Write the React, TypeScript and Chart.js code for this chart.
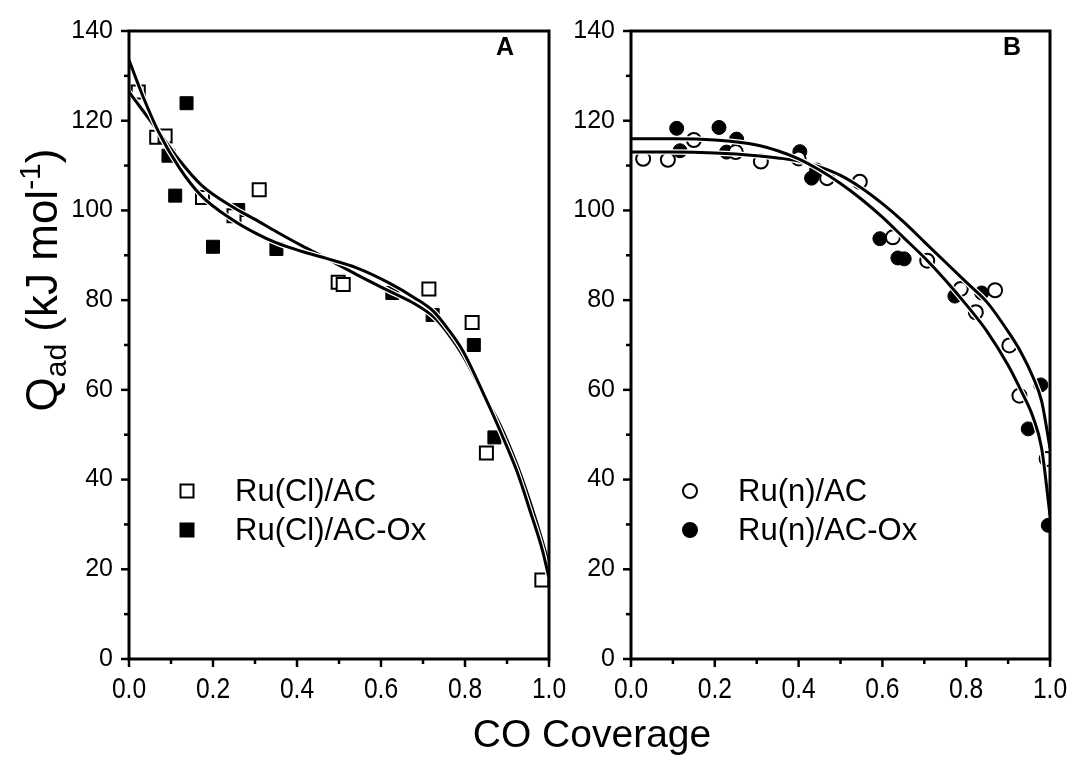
import React, { useEffect, useRef } from "react";
import { Chart, registerables } from "chart.js";

Chart.register(...registerables);

// ---------- axes ----------
const X_TICKS = [0, 0.2, 0.4, 0.6, 0.8, 1.0];
const X_MINOR = [0.1, 0.3, 0.5, 0.7, 0.9];
const Y_TICKS = [0, 20, 40, 60, 80, 100, 120, 140];
const Y_MINOR = [10, 30, 50, 70, 90, 110, 130];
const X_TITLE = "CO Coverage";
const Y_TITLE_MAIN = "Q";
const Y_TITLE_SUB = "ad";
const Y_TITLE_MID = " (kJ mol";
const Y_TITLE_SUP = "-1";
const Y_TITLE_END = ")";

// ---------- Panel A ----------
const A_LABEL = "A";
const A_OPEN_NAME = "Ru(Cl)/AC";
const A_FILLED_NAME = "Ru(Cl)/AC-Ox";
const aOpenX = [0.022, 0.066, 0.086, 0.175, 0.25, 0.31, 0.498, 0.51, 0.714, 0.817, 0.851, 0.983];
const aOpenY = [126.4, 116.3, 116.6, 102.9, 98.8, 104.6, 84.0, 83.5, 82.5, 75.0, 45.9, 17.6];
const aFilledX = [0.094, 0.11, 0.137, 0.2, 0.26, 0.351, 0.627, 0.723, 0.821, 0.87];
const aFilledY = [112.2, 103.3, 123.9, 91.9, 100.1, 91.4, 81.6, 76.7, 70.0, 49.4];
const aFitX = [0, 0.035, 0.07, 0.12, 0.173, 0.25, 0.3, 0.35, 0.41, 0.47, 0.542, 0.62, 0.68, 0.725, 0.76, 0.796, 0.848, 0.883, 0.923, 0.955, 0.985, 1.0];
const aFitFilledY = [133.5, 125, 117.6, 109.5, 103.2, 97.7, 95, 92.8, 90.9, 89.3, 87.2, 83.8, 80.5, 77.5, 73.5, 68.5, 58.3, 51, 42, 33, 24, 18];
const aFitOpenY = [126.4, 122, 117.6, 111.2, 105.6, 100.6, 98, 95.3, 92.2, 89.3, 85.7, 82, 79.2, 76.3, 72.5, 67.5, 58.3, 52.3, 43.5, 35, 26, 21];

// ---------- Panel B ----------
const B_LABEL = "B";
const B_OPEN_NAME = "Ru(n)/AC";
const B_FILLED_NAME = "Ru(n)/AC-Ox";
const bOpenX = [0.029, 0.088, 0.15, 0.25, 0.31, 0.40, 0.468, 0.546, 0.625, 0.707, 0.787, 0.823, 0.869, 0.903, 0.927, 0.992];
const bOpenY = [111.5, 111.3, 115.7, 113.0, 110.9, 111.6, 107.2, 106.4, 94.0, 88.8, 82.5, 77.3, 82.2, 69.9, 58.7, 44.6];
const bFilledX = [0.109, 0.117, 0.21, 0.228, 0.252, 0.403, 0.431, 0.443, 0.594, 0.637, 0.652, 0.773, 0.837, 0.948, 0.978, 0.996];
const bFilledY = [118.3, 113.3, 118.5, 113.0, 115.9, 113.1, 107.2, 109.0, 93.7, 89.4, 89.2, 80.9, 81.6, 51.3, 61.1, 29.8];
const bFitX = [0, 0.1, 0.2, 0.3, 0.35, 0.4, 0.45, 0.5, 0.55, 0.6, 0.65, 0.7, 0.75, 0.8, 0.85, 0.9, 0.93, 0.96, 0.98, 1.0];
const bFitFilledY = [116, 116, 115.7, 114.6, 113.3, 111.5, 109, 106, 102.5, 98.5, 94, 89.5, 84.5, 79, 73, 65.5, 60, 53.8, 47, 32];
const bFitOpenY = [113, 113, 112.8, 112.2, 111.7, 111, 109.7, 107.8, 105, 101.5, 97.5, 93, 88.5, 84, 79.5, 73, 68.5, 62.7, 57.5, 47];

const FONT = "'Liberation Sans', Arial, Helvetica, sans-serif";
const W = 1072;
const H = 760;

const pts = (xs: number[], ys: number[]) => xs.map((x, i) => ({ x, y: ys[i] }));

type PanelSpec = {
  label: string;
  openName: string;
  filledName: string;
  marker: "rect" | "circle";
  openX: number[]; openY: number[];
  filledX: number[]; filledY: number[];
  fitX: number[]; fitFilledY: number[]; fitOpenY: number[];
  canvasLeft: number;
  canvasWidth: number;
  padLeft: number;
  padRight: number;
  yAxisWidth: number;
  legendMarkerX: number;
  legendTextX: number;
  labelX: number;
  drawTitles: boolean;
};

function drawMarker(ctx: CanvasRenderingContext2D, kind: string, filled: boolean, x: number, y: number) {
  ctx.save();
  ctx.lineWidth = 2;
  ctx.strokeStyle = "#000";
  ctx.fillStyle = filled ? "#000" : "#fff";
  ctx.beginPath();
  if (kind === "rect") {
    ctx.rect(x - 6.5, y - 6.5, 13, 13);
  } else {
    ctx.arc(x, y, 7, 0, Math.PI * 2);
  }
  ctx.fill();
  ctx.stroke();
  ctx.restore();
}

function makePlugin(spec: PanelSpec) {
  return {
    id: "decor" + spec.label,
    afterDraw(chart: any) {
      const { ctx, chartArea: ca, scales } = chart;
      const xs = scales.x;
      const ys = scales.y;
      ctx.save();
      ctx.strokeStyle = "#000";
      ctx.lineWidth = 3;
      ctx.strokeRect(ca.left, ca.top, ca.right - ca.left, ca.bottom - ca.top);
      ctx.lineWidth = 2.5;
      const line = (x1: number, y1: number, x2: number, y2: number) => {
        ctx.beginPath();
        ctx.moveTo(x1, y1);
        ctx.lineTo(x2, y2);
        ctx.stroke();
      };
      X_TICKS.forEach((v) => { const p = xs.getPixelForValue(v); line(p, ca.bottom, p, ca.bottom + 8); });
      X_MINOR.forEach((v) => { const p = xs.getPixelForValue(v); line(p, ca.bottom, p, ca.bottom + 5); });
      Y_TICKS.forEach((v) => { const p = ys.getPixelForValue(v); line(ca.left - 8, p, ca.left, p); });
      Y_MINOR.forEach((v) => { const p = ys.getPixelForValue(v); line(ca.left - 5, p, ca.left, p); });

      // x tick labels (condensed, as in the original figure)
      ctx.fillStyle = "#000";
      ctx.font = `30px ${FONT}`;
      ctx.textAlign = "center";
      ctx.textBaseline = "alphabetic";
      X_TICKS.forEach((v) => {
        const p = xs.getPixelForValue(v);
        ctx.save();
        ctx.translate(p, ca.bottom + 39);
        ctx.scale(0.82, 1);
        ctx.fillText(v.toFixed(1), 0, 0);
        ctx.restore();
      });

      // panel letter
      ctx.font = `bold 25px ${FONT}`;
      ctx.textAlign = "center";
      ctx.textBaseline = "middle";
      ctx.fillText(spec.label, spec.labelX, 48);

      // legend
      ctx.font = `31px ${FONT}`;
      ctx.textAlign = "left";
      ctx.textBaseline = "middle";
      drawMarker(ctx, spec.marker, false, spec.legendMarkerX, 491);
      ctx.fillStyle = "#000";
      ctx.fillText(spec.openName, spec.legendTextX, 492);
      drawMarker(ctx, spec.marker, true, spec.legendMarkerX, 530);
      ctx.fillStyle = "#000";
      ctx.fillText(spec.filledName, spec.legendTextX, 531);

      if (spec.drawTitles) {
        // x title
        ctx.font = `39px ${FONT}`;
        ctx.textAlign = "center";
        ctx.textBaseline = "alphabetic";
        ctx.fillText(X_TITLE, 592, 747);

        // y title (rotated, with subscript and superscript)
        const big = `44px ${FONT}`;
        const small = `30px ${FONT}`;
        const parts = [
          { t: Y_TITLE_MAIN, f: big, dy: 0 },
          { t: Y_TITLE_SUB, f: small, dy: 9 },
          { t: Y_TITLE_MID, f: big, dy: 0 },
          { t: Y_TITLE_SUP, f: small, dy: -17 },
          { t: Y_TITLE_END, f: big, dy: 0 },
        ];
        let total = 0;
        const widths = parts.map((p) => { ctx.font = p.f; const w = ctx.measureText(p.t).width; total += w; return w; });
        ctx.translate(42, 280);
        ctx.rotate(-Math.PI / 2);
        ctx.textAlign = "left";
        let x = -total / 2;
        parts.forEach((p, i) => {
          ctx.font = p.f;
          ctx.fillText(p.t, x, 15 + p.dy);
          x += widths[i];
        });
      }
      ctx.restore();
    },
  };
}

function makeConfig(spec: PanelSpec): any {
  const lineDs = (ys: number[], color: string, width: number) => ({
    data: pts(spec.fitX, ys),
    showLine: true,
    pointRadius: 0,
    borderColor: color,
    borderWidth: width,
    cubicInterpolationMode: "monotone",
    fill: false,
  });
  const style = spec.marker === "rect" ? "rect" : "circle";
  const radius = spec.marker === "rect" ? 9.2 : 7;
  return {
    type: "scatter",
    data: {
      datasets: [
        lineDs(spec.fitFilledY, "#000", 3),
        lineDs(spec.fitFilledY, "#fff", 5.5),
        lineDs(spec.fitOpenY, "#000", 3),
        lineDs(spec.fitOpenY, "#fff", 5.5),
        {
          label: spec.openName,
          data: pts(spec.openX, spec.openY),
          pointStyle: style,
          pointRadius: radius,
          backgroundColor: "#fff",
          borderColor: "#000",
          borderWidth: 2,
          showLine: false,
        },
        {
          label: spec.filledName,
          data: pts(spec.filledX, spec.filledY),
          pointStyle: style,
          pointRadius: radius,
          backgroundColor: "#000",
          borderColor: "#000",
          borderWidth: 1,
          showLine: false,
        },
      ],
    },
    options: {
      responsive: false,
      animation: false,
      devicePixelRatio: 1,
      layout: { padding: { left: spec.padLeft, right: spec.padRight, top: 29, bottom: 0 } },
      plugins: { legend: { display: false }, tooltip: { enabled: false } },
      scales: {
        x: {
          type: "linear",
          min: 0,
          max: 1,
          grid: { display: false, drawTicks: false },
          border: { display: false },
          afterBuildTicks: (s: any) => { s.ticks = X_TICKS.map((v) => ({ value: v })); },
          afterFit: (s: any) => { s.height = 101; },
          ticks: { display: false },
        },
        y: {
          type: "linear",
          min: 0,
          max: 140,
          grid: { display: false, drawTicks: false },
          border: { display: false },
          afterBuildTicks: (s: any) => { s.ticks = Y_TICKS.map((v) => ({ value: v })); },
          afterFit: (s: any) => { s.width = spec.yAxisWidth; },
          ticks: {
            color: "#000",
            padding: 16,
            font: { family: FONT, size: 25 },
            callback: (v: any) => String(v),
          },
        },
      },
    },
    plugins: [makePlugin(spec)],
  };
}

const panelA: PanelSpec = {
  label: A_LABEL, openName: A_OPEN_NAME, filledName: A_FILLED_NAME, marker: "rect",
  openX: aOpenX, openY: aOpenY, filledX: aFilledX, filledY: aFilledY,
  fitX: aFitX, fitFilledY: aFitFilledY, fitOpenY: aFitOpenY,
  canvasLeft: 0, canvasWidth: W, padLeft: 0, padRight: W - 549, yAxisWidth: 129,
  legendMarkerX: 187, legendTextX: 235, labelX: 505, drawTitles: true,
};

const panelB: PanelSpec = {
  label: B_LABEL, openName: B_OPEN_NAME, filledName: B_FILLED_NAME, marker: "circle",
  openX: bOpenX, openY: bOpenY, filledX: bFilledX, filledY: bFilledY,
  fitX: bFitX, fitFilledY: bFitFilledY, fitOpenY: bFitOpenY,
  canvasLeft: 560, canvasWidth: W - 560, padLeft: 0, padRight: W - 1050, yAxisWidth: 631 - 560,
  legendMarkerX: 690 - 560, legendTextX: 738 - 560, labelX: 1012 - 560, drawTitles: false,
};

function Panel({ spec }: { spec: PanelSpec }) {
  const ref = useRef<HTMLCanvasElement | null>(null);
  useEffect(() => {
    if (!ref.current) return;
    const chart = new Chart(ref.current, makeConfig(spec));
    return () => chart.destroy();
  }, [spec]);
  return (
    <canvas
      ref={ref}
      width={spec.canvasWidth}
      height={H}
      style={{ position: "absolute", left: spec.canvasLeft, top: 0, width: spec.canvasWidth, height: H }}
    />
  );
}

export default function App() {
  return (
    <div style={{ position: "fixed", left: 0, top: 0, width: W, height: H, background: "#fff", overflow: "hidden" }}>
      <Panel spec={panelA} />
      <Panel spec={panelB} />
    </div>
  );
}
